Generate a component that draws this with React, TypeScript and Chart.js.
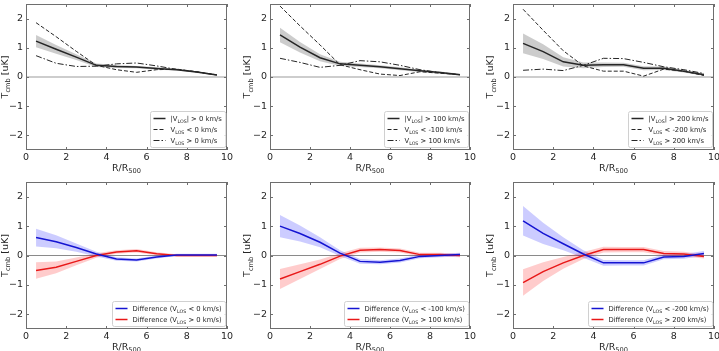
import React, { useEffect, useRef } from "react";
import { Chart, registerables } from "chart.js";
Chart.register(...registerables);

// ---------------- data ----------------
const radius = [0.5, 1.5, 2.5, 3.5, 4.5, 5.5, 6.5, 7.5, 8.5, 9.5];
const xTicks = [0, 2, 4, 6, 8, 10];
const yTicks = [-2, -1, 0, 1, 2];
const thresholds = ["0", "100", "200"];
const negThresholds = ["0", "-100", "-200"];

// top row: |V_LOS| > cut (solid, with band), V_LOS < -cut (dashed), V_LOS > cut (dash-dot)
const p1All = [1.23, 0.95, 0.68, 0.4, 0.36, 0.34, 0.29, 0.25, 0.17, 0.07];
const p1AllErr = [0.21, 0.15, 0.1, 0.06, 0.05, 0.04, 0.04, 0.03, 0.03, 0.02];
const p1Neg = [1.86, 1.38, 0.88, 0.4, 0.25, 0.16, 0.25, 0.27, 0.18, 0.07];
const p1Pos = [0.73, 0.47, 0.36, 0.37, 0.45, 0.48, 0.38, 0.26, 0.17, 0.07];

const p2All = [1.44, 1.02, 0.66, 0.45, 0.4, 0.35, 0.28, 0.21, 0.15, 0.08];
const p2AllErr = [0.25, 0.18, 0.12, 0.07, 0.06, 0.05, 0.05, 0.04, 0.04, 0.03];
const p2Neg = [2.43, 1.75, 1.1, 0.42, 0.25, 0.1, 0.05, 0.18, 0.13, 0.08];
const p2Pos = [0.64, 0.5, 0.33, 0.4, 0.56, 0.52, 0.4, 0.25, 0.15, 0.08];

const p3All = [1.15, 0.87, 0.52, 0.4, 0.42, 0.42, 0.3, 0.3, 0.2, 0.08];
const p3AllErr = [0.34, 0.25, 0.16, 0.1, 0.08, 0.07, 0.07, 0.06, 0.05, 0.04];
const p3Neg = [2.32, 1.6, 0.9, 0.38, 0.2, 0.2, 0.03, 0.27, 0.2, 0.05];
const p3Pos = [0.23, 0.27, 0.22, 0.4, 0.64, 0.63, 0.5, 0.35, 0.25, 0.12];

// bottom row: differences
const p4DiffNeg = [0.61, 0.47, 0.27, 0.05, -0.12, -0.15, -0.05, 0.02, 0.02, 0.02];
const p4DiffNegErr = [0.3, 0.22, 0.14, 0.08, 0.06, 0.05, 0.05, 0.04, 0.04, 0.04];
const p4DiffPos = [-0.51, -0.4, -0.2, 0.0, 0.12, 0.16, 0.06, 0.0, 0.0, 0.0];
const p4DiffPosErr = [0.28, 0.2, 0.13, 0.08, 0.06, 0.06, 0.05, 0.04, 0.04, 0.04];

const p5DiffNeg = [1.0, 0.75, 0.45, 0.08, -0.2, -0.23, -0.17, -0.03, 0.0, 0.03];
const p5DiffNegErr = [0.38, 0.27, 0.17, 0.1, 0.08, 0.07, 0.07, 0.06, 0.06, 0.06];
const p5DiffPos = [-0.8, -0.55, -0.3, -0.02, 0.18, 0.2, 0.17, 0.03, 0.03, 0.0];
const p5DiffPosErr = [0.34, 0.25, 0.16, 0.1, 0.08, 0.07, 0.07, 0.06, 0.06, 0.06];

const p6DiffNeg = [1.18, 0.75, 0.4, 0.05, -0.25, -0.25, -0.25, -0.05, -0.03, 0.07];
const p6DiffNegErr = [0.5, 0.36, 0.22, 0.13, 0.1, 0.09, 0.09, 0.08, 0.08, 0.08];
const p6DiffPos = [-0.92, -0.55, -0.25, 0.0, 0.2, 0.2, 0.2, 0.07, 0.05, -0.03];
const p6DiffPosErr = [0.45, 0.32, 0.2, 0.12, 0.1, 0.09, 0.09, 0.08, 0.08, 0.07];

// ---------------- styling ----------------
const FONT = "'DejaVu Sans', sans-serif";
const TEXT = "#262626";
const FRAME = "#6e6e6e";
const BLUE = "#1414d2";
const RED = "#e81818";
const DARK = "#262626";

type Seg = [string, boolean];
type LegendEntry = { segs: Seg[]; color: string; dash: number[]; width: number };

const pts = (vals: number[], off?: number[], sign = 0) =>
  vals.map((v, i) => ({ x: radius[i], y: v + (off ? sign * off[i] : 0) }));

function richWidth(ctx: CanvasRenderingContext2D, segs: Seg[], size: number) {
  let w = 0;
  for (const [t, sub] of segs) {
    ctx.font = `${sub ? size * 0.7 : size}px ${FONT}`;
    w += ctx.measureText(t).width;
  }
  return w;
}
function drawRich(ctx: CanvasRenderingContext2D, segs: Seg[], x: number, y: number, size: number) {
  let cx = x;
  ctx.textAlign = "left";
  ctx.textBaseline = "alphabetic";
  for (const [t, sub] of segs) {
    ctx.font = `${sub ? size * 0.7 : size}px ${FONT}`;
    ctx.fillText(t, cx, sub ? y + size * 0.25 : y);
    cx += ctx.measureText(t).width;
  }
}

type Panel = {
  left: number; top: number; w: number; h: number;
  yW: number; padR: number; padT: number; xH: number; yTitleX: number;
  datasets: any[]; legend: LegendEntry[]; legendFont: number; zeroColor: string; zeroWidth: number;
};

function makeDecor(p: Panel) {
  return {
    id: "decor",
    beforeDatasetsDraw(chart: any) {
      const { ctx, chartArea: a, scales } = chart;
      const y0 = scales.y.getPixelForValue(0);
      ctx.save();
      ctx.strokeStyle = p.zeroColor;
      ctx.lineWidth = p.zeroWidth;
      ctx.beginPath();
      ctx.moveTo(a.left, y0);
      ctx.lineTo(a.right, y0);
      ctx.stroke();
      ctx.restore();
    },
    afterDraw(chart: any) {
      const { ctx, chartArea: a, scales } = chart;
      ctx.save();
      // frame
      ctx.strokeStyle = FRAME;
      ctx.lineWidth = 1;
      ctx.strokeRect(Math.round(a.left) + 0.5, Math.round(a.top) + 0.5, Math.round(a.right - a.left) - 1, Math.round(a.bottom - a.top) - 1);
      // inward ticks
      const tl = 3;
      ctx.beginPath();
      for (const v of xTicks) {
        const px = Math.round(scales.x.getPixelForValue(v)) + 0.5;
        ctx.moveTo(px, a.bottom); ctx.lineTo(px, a.bottom - tl);
        ctx.moveTo(px, a.top); ctx.lineTo(px, a.top + tl);
      }
      for (const v of yTicks) {
        const py = Math.round(scales.y.getPixelForValue(v)) + 0.5;
        ctx.moveTo(a.left, py); ctx.lineTo(a.left + tl, py);
        ctx.moveTo(a.right, py); ctx.lineTo(a.right - tl, py);
      }
      ctx.stroke();
      // axis titles
      ctx.fillStyle = TEXT;
      const ts = 9.5;
      const xt: Seg[] = [["R/R", false], ["500", true]];
      const xw = richWidth(ctx, xt, ts);
      drawRich(ctx, xt, (a.left + a.right) / 2 - xw / 2, a.bottom + 20.5, ts);
      const yt: Seg[] = [["T", false], ["cmb", true], [" [uK]", false]];
      const yw = richWidth(ctx, yt, ts);
      ctx.save();
      ctx.translate(p.yTitleX, (a.top + a.bottom) / 2);
      ctx.rotate(-Math.PI / 2);
      drawRich(ctx, yt, -yw / 2, ts * 0.35, ts);
      ctx.restore();
      // legend
      const fs = p.legendFont;
      const textW = Math.max(...p.legend.map((e) => richWidth(ctx, e.segs, fs)));
      const padL = 3, lineLen = 12, gap = 5, padRt = 4, rowH = 11, padV = 1.5;
      const w = padL + lineLen + gap + textW + padRt;
      const h = padV * 2 + rowH * p.legend.length;
      const bx = Math.round(a.right - 2 - w) + 0.5;
      const by = Math.round(a.bottom - 3 - h) + 0.5;
      ctx.fillStyle = "rgba(255,255,255,0.85)";
      ctx.strokeStyle = "#d0d0d0";
      ctx.lineWidth = 1;
      ctx.beginPath();
      (ctx as any).roundRect(bx, by, w, h, 2);
      ctx.fill();
      ctx.stroke();
      p.legend.forEach((e, i) => {
        const cy = by + padV + rowH * (i + 0.5);
        ctx.strokeStyle = e.color;
        ctx.lineWidth = e.width;
        ctx.setLineDash(e.dash);
        ctx.beginPath();
        ctx.moveTo(bx + padL, cy);
        ctx.lineTo(bx + padL + lineLen, cy);
        ctx.stroke();
        ctx.setLineDash([]);
        ctx.fillStyle = TEXT;
        drawRich(ctx, e.segs, bx + padL + lineLen + gap, cy + fs * 0.35, fs);
      });
      ctx.restore();
    },
  };
}

const DASH = [4, 2];
const DASHDOT = [6, 2, 1.5, 2];

function topDatasets(all: number[], err: number[], neg: number[], pos: number[]) {
  return [
    { data: pts(all), borderColor: DARK, borderWidth: 1.5, pointRadius: 0, fill: false, order: 0 },
    { data: pts(neg), borderColor: DARK, borderWidth: 1, borderDash: DASH, pointRadius: 0, fill: false, order: 1 },
    { data: pts(pos), borderColor: DARK, borderWidth: 1, borderDash: DASHDOT, pointRadius: 0, fill: false, order: 2 },
    { data: pts(all, err, 1), borderWidth: 0, pointRadius: 0, fill: false, order: 10 },
    { data: pts(all, err, -1), borderWidth: 0, pointRadius: 0, fill: "-1", backgroundColor: "rgba(128,128,128,0.4)", order: 10 },
  ];
}
function bottomDatasets(dn: number[], dnErr: number[], dp: number[], dpErr: number[]) {
  return [
    { data: pts(dn), borderColor: BLUE, borderWidth: 1.5, pointRadius: 0, fill: false, order: 0 },
    { data: pts(dp), borderColor: RED, borderWidth: 1.5, pointRadius: 0, fill: false, order: 1 },
    { data: pts(dn, dnErr, 1), borderWidth: 0, pointRadius: 0, fill: false, order: 10 },
    { data: pts(dn, dnErr, -1), borderWidth: 0, pointRadius: 0, fill: "-1", backgroundColor: "rgba(0,0,255,0.2)", order: 10 },
    { data: pts(dp, dpErr, 1), borderWidth: 0, pointRadius: 0, fill: false, order: 11 },
    { data: pts(dp, dpErr, -1), borderWidth: 0, pointRadius: 0, fill: "-1", backgroundColor: "rgba(255,0,0,0.2)", order: 11 },
  ];
}
function topLegend(i: number): LegendEntry[] {
  return [
    { segs: [["|V", false], ["LOS", true], ["| > " + thresholds[i] + " km/s", false]], color: DARK, dash: [], width: 1.5 },
    { segs: [["V", false], ["LOS", true], [" < " + negThresholds[i] + " km/s", false]], color: DARK, dash: DASH, width: 1 },
    { segs: [["V", false], ["LOS", true], [" > " + thresholds[i] + " km/s", false]], color: DARK, dash: DASHDOT, width: 1 },
  ];
}
function bottomLegend(i: number): LegendEntry[] {
  return [
    { segs: [["Difference (V", false], ["LOS", true], [" < " + negThresholds[i] + " km/s)", false]], color: BLUE, dash: [], width: 1.5 },
    { segs: [["Difference (V", false], ["LOS", true], [" > " + thresholds[i] + " km/s)", false]], color: RED, dash: [], width: 1.5 },
  ];
}

const cols = [
  { x: 0, w: 240, yW: 26, padR: 13, yTitleX: 4.5 },
  { x: 240, w: 240, yW: 30, padR: 10, yTitleX: 7 },
  { x: 480, w: 239, yW: 33, padR: 5, yTitleX: 10 },
];
const rows = [
  { y: 0, h: 175, padT: 4, xH: 25 },
  { y: 175, h: 176, padT: 7, xH: 22 },
];

const topData = [
  topDatasets(p1All, p1AllErr, p1Neg, p1Pos),
  topDatasets(p2All, p2AllErr, p2Neg, p2Pos),
  topDatasets(p3All, p3AllErr, p3Neg, p3Pos),
];
const bottomData = [
  bottomDatasets(p4DiffNeg, p4DiffNegErr, p4DiffPos, p4DiffPosErr),
  bottomDatasets(p5DiffNeg, p5DiffNegErr, p5DiffPos, p5DiffPosErr),
  bottomDatasets(p6DiffNeg, p6DiffNegErr, p6DiffPos, p6DiffPosErr),
];

const panels: Panel[] = [];
rows.forEach((r, ri) =>
  cols.forEach((c, ci) =>
    panels.push({
      left: c.x, top: r.y, w: c.w, h: r.h, yW: c.yW, padR: c.padR, padT: r.padT, xH: r.xH, yTitleX: c.yTitleX,
      datasets: ri === 0 ? topData[ci] : bottomData[ci],
      legend: ri === 0 ? topLegend(ci) : bottomLegend(ci),
      legendFont: 6.8,
      zeroColor: ri === 0 ? "#bdbdbd" : "#8a8a8a",
      zeroWidth: ri === 0 ? 1.5 : 1,
    })
  )
);

function PanelChart({ p }: { p: Panel }) {
  const ref = useRef<HTMLCanvasElement>(null);
  useEffect(() => {
    if (!ref.current) return;
    const tickFont = { family: FONT, size: 9.5 };
    const zeroPad = (s: any) => { s.paddingTop = 0; s.paddingBottom = 0; s.paddingLeft = 0; s.paddingRight = 0; };
    const chart = new Chart(ref.current, {
      type: "line",
      data: { datasets: p.datasets.map((d) => ({ ...d, data: d.data.map((q: any) => ({ ...q })) })) },
      options: {
        responsive: false,
        animation: false,
        events: [],
        layout: { padding: { left: 0, top: p.padT, right: p.padR, bottom: 0 } },
        plugins: { legend: { display: false }, tooltip: { enabled: false } },
        scales: {
          x: {
            type: "linear", min: 0, max: 10,
            grid: { display: false, drawTicks: false }, border: { display: false },
            ticks: { font: tickFont, color: TEXT, padding: 2, maxRotation: 0, autoSkip: false },
            afterBuildTicks: (s: any) => { s.ticks = xTicks.map((v) => ({ value: v })); },
            afterFit: (s: any) => { s.height = p.xH; zeroPad(s); },
          },
          y: {
            type: "linear", min: -2.5, max: 2.5,
            grid: { display: false, drawTicks: false }, border: { display: false },
            ticks: {
              font: tickFont, color: TEXT, padding: 3,
              callback: (v: any) => (Number(v) < 0 ? "\u2212" + Math.abs(Number(v)) : String(v)),
            },
            afterBuildTicks: (s: any) => { s.ticks = yTicks.map((v) => ({ value: v })); },
            afterFit: (s: any) => { s.width = p.yW; zeroPad(s); },
          },
        },
      } as any,
      plugins: [makeDecor(p)],
    });
    return () => chart.destroy();
  }, [p]);
  return (
    <canvas
      ref={ref}
      width={p.w}
      height={p.h}
      style={{ position: "absolute", left: p.left, top: p.top, width: p.w, height: p.h }}
    />
  );
}

export default function App() {
  return (
    <div style={{ position: "fixed", left: 0, top: 0, width: 719, height: 351, background: "#fff", overflow: "hidden" }}>
      {panels.map((p, i) => (
        <PanelChart key={i} p={p} />
      ))}
    </div>
  );
}
